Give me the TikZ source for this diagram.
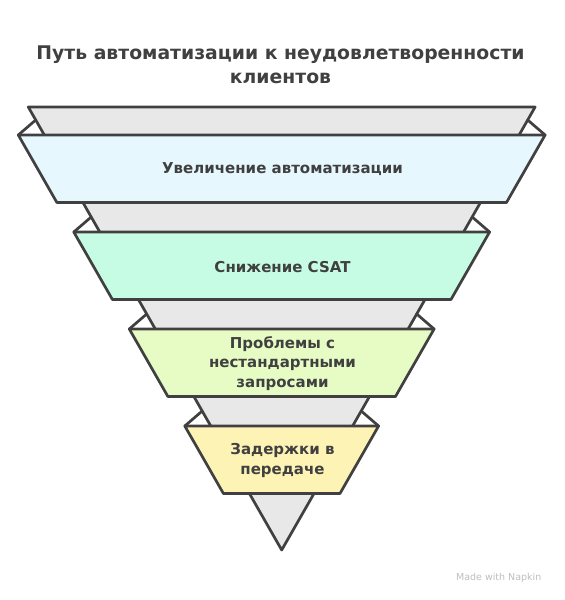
\documentclass[tikz,border=0pt]{standalone}
\usepackage{fontspec}
\setmainfont{DejaVu Sans}
\definecolor{ink}{HTML}{404040}
\definecolor{funnelgrey}{HTML}{E8E8E8}
\definecolor{bandblue}{HTML}{E6F7FE}
\definecolor{bandmint}{HTML}{C6FCE4}
\definecolor{bandlime}{HTML}{E6FCC4}
\definecolor{bandyellow}{HTML}{FDF3B5}
\definecolor{markgrey}{HTML}{BDBDBD}

\begin{document}
\begin{tikzpicture}[x=1pt, y=-1pt, line width=2.7pt, line join=round, line cap=round,
    band/.style={draw=ink},
    fold/.style={draw=ink},
    label/.style={text=ink, align=center, font=\bfseries\fontsize{15}{19.5}\selectfont}]
        \useasboundingbox (0,0) rectangle (565,600);

        % title
        \node[text=ink, align=center, font=\bfseries\fontsize{18.8}{24}\selectfont] (title) at (280.5,65)
            {Путь автоматизации к неудовлетворенности\\клиентов};

        % grey funnel behind the bands
        \coordinate (ftl) at (28.3,107);
        \coordinate (ftr) at (535.1,107);
        \coordinate (fap) at (281.7,550);
        \draw[ink, fill=funnelgrey] (ftl) -- (ftr) -- (fap) -- cycle;

        % bands
        \draw[band, fill=bandblue]   (18.3,135)  -- (545.1,135) -- (506.5,202.5) -- (56.9,202.5)  -- cycle;
        \draw[band, fill=bandmint]   (73.8,232)  -- (489.6,232) -- (451.0,299.5) -- (112.4,299.5) -- cycle;
        \draw[band, fill=bandlime]   (129.3,329) -- (434.1,329) -- (395.5,396.5) -- (167.9,396.5) -- cycle;
        \draw[band, fill=bandyellow] (184.8,426) -- (378.6,426) -- (340.0,493.5) -- (223.4,493.5) -- cycle;

        % folds from band corners back to the funnel
        \draw[fold] (18.3,135)  -- (35.7,120);   \draw[fold] (545.1,135) -- (527.7,120);
        \draw[fold] (73.8,232)  -- (91.2,217);   \draw[fold] (489.6,232) -- (472.2,217);
        \draw[fold] (129.3,329) -- (146.7,314);  \draw[fold] (434.1,329) -- (416.7,314);
        \draw[fold] (184.8,426) -- (202.2,411);  \draw[fold] (378.6,426) -- (361.2,411);

        \node[label] (auto)   at (282.5,169)   {Увеличение автоматизации};
        \node[label] (csat)   at (282.5,267)   {Снижение CSAT};
        \node[label] (nonstd) at (282.5,363.5) {Проблемы с\\нестандартными\\запросами};
        \node[label] (delay)  at (282.5,460.5) {Задержки в\\передаче};

        \node[text=markgrey, font=\fontsize{9.5}{11}\selectfont, anchor=east] (made) at (546,578) {Made with Napkin};
    \end{tikzpicture}
\end{document}
